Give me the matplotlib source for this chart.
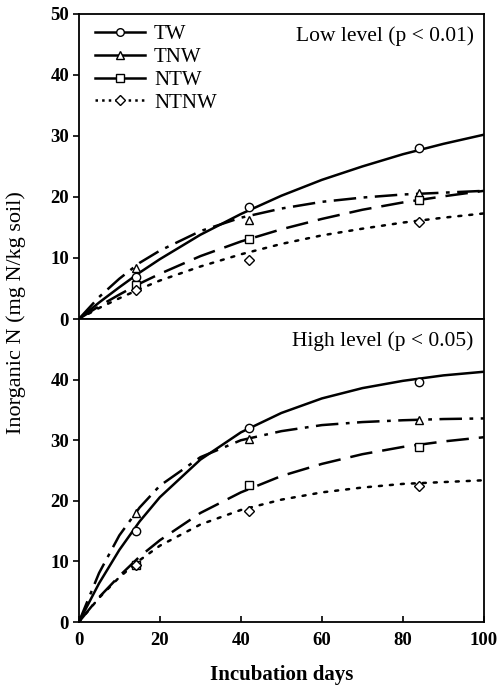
import numpy as np
import matplotlib
matplotlib.use("Agg")
import matplotlib.pyplot as plt
from matplotlib.lines import Line2D

plt.rcParams['font.family'] = ['Liberation Serif', 'DejaVu Serif']

# fitted curves (incubation day -> inorganic N)
curve_days = [0, 5, 10, 15, 20, 30, 40, 50, 60, 70, 80, 90, 100]

low_tw = [0, 2.7, 5.2, 7.6, 9.8, 13.8, 17.2, 20.2, 22.8, 25.0, 27.0, 28.7, 30.2]
low_tnw = [0, 3.6, 6.6, 9.2, 11.2, 14.4, 16.6, 18.1, 19.2, 19.9, 20.4, 20.7, 21.0]
low_ntw = [0, 2.1, 4.0, 5.8, 7.4, 10.3, 12.7, 14.7, 16.4, 17.9, 19.1, 20.1, 21.0]
low_ntnw = [0, 1.8, 3.4, 4.9, 6.3, 8.6, 10.6, 12.3, 13.7, 14.8, 15.8, 16.6, 17.3]

high_tw = [0, 6.4, 11.9, 16.6, 20.6, 26.8, 31.3, 34.5, 36.9, 38.6, 39.8, 40.7, 41.3]
high_tnw = [0, 8.1, 14.3, 18.9, 22.5, 27.2, 30.0, 31.5, 32.5, 33.0, 33.3, 33.5, 33.6]
high_ntw = [0, 4.1, 7.6, 10.8, 13.5, 18.0, 21.4, 24.1, 26.1, 27.7, 28.9, 29.8, 30.5]
high_ntnw = [0, 4.0, 7.4, 10.2, 12.6, 16.1, 18.5, 20.2, 21.4, 22.2, 22.8, 23.1, 23.4]

# measured points
obs_days = [14, 42, 84]
low_tw_obs = [6.9, 18.4, 28.0]
low_tnw_obs = [8.3, 16.2, 20.7]
low_ntw_obs = [5.6, 13.1, 19.5]
low_ntnw_obs = [4.8, 9.7, 15.9]
high_tw_obs = [15.0, 32.1, 39.6]
high_tnw_obs = [18.0, 30.2, 33.4]
high_ntw_obs = [9.4, 22.6, 28.9]
high_ntnw_obs = [9.5, 18.3, 22.5]

names = ['TW', 'TNW', 'NTW', 'NTNW']
markers = ['o', '^', 's', 'D']
msizes = [6, 6, 6, 5.5]
styles = ['-', (0, (9, 3, 1.5, 3)), (0, (9, 4)), (0, (1.2, 3.2))]

fig = plt.figure(figsize=(5.02, 6.92), dpi=100)
ax1 = fig.add_axes([0.157, 0.539, 0.807, 0.441])
ax2 = fig.add_axes([0.157, 0.101, 0.807, 0.438])

panels = [
    (ax1, [low_tw, low_tnw, low_ntw, low_ntnw],
     [low_tw_obs, low_tnw_obs, low_ntw_obs, low_ntnw_obs], 'Low level (p < 0.01)'),
    (ax2, [high_tw, high_tnw, high_ntw, high_ntnw],
     [high_tw_obs, high_tnw_obs, high_ntw_obs, high_ntnw_obs], 'High level (p < 0.05)'),
]

for ax, curves, obs, title in panels:
    for i in range(4):
        ax.plot(curve_days, curves[i], color='black', lw=1.8, ls=styles[i],
                dash_capstyle='round' if i == 3 else 'butt')
        ax.plot(obs_days, obs[i], ls='none', marker=markers[i], ms=msizes[i],
                mfc='white', mec='black', mew=1.0)
    ax.set_xlim(0, 100)
    ax.set_ylim(0, 50)
    ax.text(0.975, 0.96, title, transform=ax.transAxes, ha='right', va='top', fontsize=15.5)
    for s in ax.spines.values():
        s.set_linewidth(1.3)
    ax.tick_params(axis='y', direction='out', length=4, width=1.2, labelsize=13.5, pad=3)

ax1.set_yticks([0, 10, 20, 30, 40, 50])
ax1.set_yticklabels(['0', '10', '20', '30', '40', '50'], fontweight='bold')
ax1.tick_params(axis='x', bottom=False, labelbottom=False)

ax2.set_yticks([0, 10, 20, 30, 40])
ax2.set_yticklabels(['0', '10', '20', '30', '40'], fontweight='bold')
ax2.set_xticks([0, 20, 40, 60, 80, 100])
ax2.set_xticklabels(['0', '20', '40', '60', '80', '100'], fontweight='bold')
ax2.tick_params(axis='x', direction='in', length=4, width=1.2, labelsize=13.5, pad=7)
ax2.set_xlabel('Incubation days', fontsize=15, fontweight='bold', labelpad=12)

fig.text(0.032, 0.548, 'Inorganic N (mg N/kg soil)', rotation=90, ha='center', va='center',
         fontsize=16)

handles = []
for i in range(4):
    handles.append(Line2D([], [], color='black', lw=1.8, ls=':' if i == 3 else '-',
                          marker=markers[i], ms=msizes[i] - 0.5, mfc='white', mec='black', mew=1.0))
leg = ax1.legend(handles, names, loc='upper left', frameon=False, fontsize=15,
                 handlelength=2.4, handletextpad=0.45, labelspacing=0.15,
                 borderaxespad=0.2, bbox_to_anchor=(0.008, 1.005))

fig.savefig('out.png', dpi=100)
